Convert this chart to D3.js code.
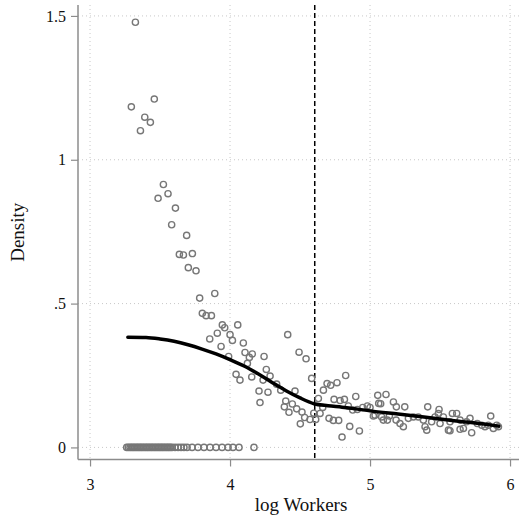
<!DOCTYPE html>
<meta charset="utf-8">
<style>
body, html { margin: 0; padding: 0; background: #fff; overflow: hidden; }
svg { display: block; }
text { font-family: "Liberation Serif", "DejaVu Serif", serif; fill: #111; }
</style>
<svg width="519" height="521"></svg>
<script src="https://cdn.jsdelivr.net/npm/d3@7/dist/d3.min.js"></script>
<script>

// scatter of density by log workers
var ptX = [3.324,3.459,3.295,3.391,3.431,3.360,3.524,3.557,3.486,3.610,3.583,3.690,3.638,3.667,3.731,3.702,3.757,3.891,3.783,3.802,
  3.829,3.867,3.945,4.055,3.962,3.909,4.000,3.855,4.017,4.095,3.936,4.107,4.159,4.138,3.990,4.243,4.124,4.259,4.286,4.043,
  4.071,4.155,4.236,4.333,4.207,4.271,4.362,4.214,4.388,4.398,4.412,4.493,4.543,4.583,4.826,4.464,4.445,4.476,4.514,4.421,
  4.533,4.571,4.598,4.612,4.502,4.631,4.643,4.662,4.667,4.693,4.719,4.764,4.743,4.786,4.817,4.898,4.845,4.707,4.738,4.776,
  4.855,4.924,4.800,4.876,4.909,4.948,4.981,5.000,5.024,5.055,5.062,5.114,5.076,5.167,5.188,5.248,5.412,5.493,5.588,5.619,
  5.862,5.095,5.124,5.238,5.393,5.405,5.571,5.726,5.643,5.881,5.036,5.083,5.138,5.186,5.214,5.274,5.310,5.345,5.381,5.440,
  5.464,5.488,5.500,5.524,5.560,5.571,5.643,5.667,5.690,5.714,5.766,5.798,5.821,5.845,5.905,5.917];
var ptY = [1.478,1.211,1.184,1.148,1.130,1.101,0.914,0.882,0.866,0.832,0.774,0.737,0.671,0.669,0.674,0.625,0.614,0.535,0.519,0.466,
  0.458,0.458,0.426,0.426,0.416,0.397,0.392,0.377,0.372,0.363,0.351,0.330,0.325,0.313,0.316,0.316,0.292,0.271,0.248,0.254,
  0.234,0.245,0.234,0.220,0.196,0.192,0.199,0.156,0.141,0.161,0.392,0.331,0.308,0.240,0.250,0.196,0.151,0.134,0.123,0.122,
  0.104,0.097,0.119,0.097,0.082,0.170,0.118,0.139,0.199,0.222,0.216,0.225,0.167,0.163,0.167,0.177,0.144,0.101,0.094,0.094,
  0.073,0.057,0.036,0.130,0.132,0.139,0.144,0.139,0.109,0.181,0.153,0.184,0.152,0.158,0.141,0.141,0.141,0.132,0.118,0.118,
  0.109,0.095,0.095,0.072,0.072,0.060,0.058,0.051,0.063,0.066,0.112,0.106,0.109,0.095,0.083,0.101,0.106,0.106,0.095,0.089,
  0.106,0.118,0.083,0.106,0.060,0.089,0.095,0.066,0.089,0.101,0.083,0.077,0.072,0.077,0.077,0.072];

// points sitting at zero density
var zeroX = [3.262,3.274,3.286,3.297,3.307,3.318,3.329,3.340,3.350,3.361,3.371,3.382,3.393,3.404,3.414,3.425,3.436,3.446,3.457,3.468,
  3.479,3.490,3.500,3.511,3.521,3.532,3.543,3.554,3.564,3.575,3.586,3.607,3.629,3.650,3.671,3.693,3.729,3.771,3.814,3.857,
  3.900,3.943,3.986,4.021,4.064,4.171];

// smoothed fit
var fitX = [3.27,3.4,3.5,3.6,3.7,3.8,3.9,4.0,4.1,4.2,4.3,4.4,4.5,4.6,4.7,4.8,4.9,5.0,5.2,5.4,5.6,5.8,5.92];
var fitY = [0.383,0.382,0.377,0.369,0.357,0.342,0.325,0.305,0.283,0.256,0.226,0.197,0.172,0.152,0.145,0.140,0.134,0.127,0.116,0.105,0.093,0.082,0.074];

var xTicks = [3, 4, 5, 6];
var yTicks = [0, 0.5, 1, 1.5];
var yTickLabels = ["0", ".5", "1", "1.5"];
var cutoff = 4.605;

var svg = d3.select("svg");
var pLeft = 78, pRight = 519, pTop = 5, pBottom = 459.5;

var x = d3.scaleLinear().domain([2.914, 6.064]).range([pLeft, pRight]);
var y = d3.scaleLinear().domain([-0.042, 1.538]).range([pBottom, pTop]);

// grid
svg.append("g").selectAll("line").data(yTicks).enter().append("line")
    .attr("x1", pLeft).attr("x2", pRight)
    .attr("y1", function(d) { return y(d); }).attr("y2", function(d) { return y(d); })
    .attr("stroke", "#c8c8c8").attr("stroke-width", 1).attr("stroke-dasharray", "1,3");
svg.append("g").selectAll("line").data(xTicks).enter().append("line")
    .attr("y1", pTop).attr("y2", pBottom)
    .attr("x1", function(d) { return x(d); }).attr("x2", function(d) { return x(d); })
    .attr("stroke", "#c8c8c8").attr("stroke-width", 1).attr("stroke-dasharray", "1,3");

// axes
var xAxis = svg.append("g").attr("transform", "translate(0," + pBottom + ")")
    .call(d3.axisBottom(x).tickValues(xTicks).tickSize(7).tickPadding(12).tickFormat(d3.format("d")));
var yAxis = svg.append("g").attr("transform", "translate(" + pLeft + ",0)")
    .call(d3.axisLeft(y).tickValues(yTicks).tickSize(7).tickPadding(5)
        .tickFormat(function(d, i) { return yTickLabels[i]; }));
[xAxis, yAxis].forEach(function(a) {
  a.attr("font-family", "Liberation Serif").attr("font-size", 16);
  a.select(".domain").attr("stroke", "#8c8c8c").attr("stroke-width", 1.5);
  a.selectAll(".tick line").attr("stroke", "#8c8c8c").attr("stroke-width", 1.2);
  a.selectAll(".tick text").attr("fill", "#111");
});
xAxis.select(".domain").attr("d", "M" + pLeft + ",0H" + pRight);
yAxis.select(".domain").attr("d", "M0," + pTop + "V" + pBottom);

// cutoff line
svg.append("line")
    .attr("x1", x(cutoff)).attr("x2", x(cutoff))
    .attr("y1", pTop).attr("y2", pBottom)
    .attr("stroke", "#000").attr("stroke-width", 1.5).attr("stroke-dasharray", "5,3");

// points
var pts = ptX.map(function(d, i) { return [d, ptY[i]]; })
    .concat(zeroX.map(function(d) { return [d, 0]; }));
svg.append("g").selectAll("circle").data(pts).enter().append("circle")
    .attr("cx", function(d) { return x(d[0]); })
    .attr("cy", function(d) { return y(d[1]); })
    .attr("r", 3.1)
    .attr("fill", "none")
    .attr("stroke", "#777")
    .attr("stroke-width", 1.4);

// fit line
var line = d3.line()
    .x(function(d) { return x(d[0]); })
    .y(function(d) { return y(d[1]); })
    .curve(d3.curveMonotoneX);
svg.append("path")
    .datum(fitX.map(function(d, i) { return [d, fitY[i]]; }))
    .attr("d", line)
    .attr("fill", "none")
    .attr("stroke", "#000")
    .attr("stroke-width", 3.5)
    .attr("stroke-linejoin", "round")
    .attr("stroke-linecap", "round");

// titles
svg.append("text")
    .attr("x", (x(3) + x(6)) / 2 + 1).attr("y", 511)
    .attr("text-anchor", "middle").attr("font-size", 19)
    .text("log Workers");
svg.append("text")
    .attr("transform", "translate(24," + ((pTop + pBottom) / 2) + ") rotate(-90)")
    .attr("text-anchor", "middle").attr("font-size", 19)
    .text("Density");

</script>
